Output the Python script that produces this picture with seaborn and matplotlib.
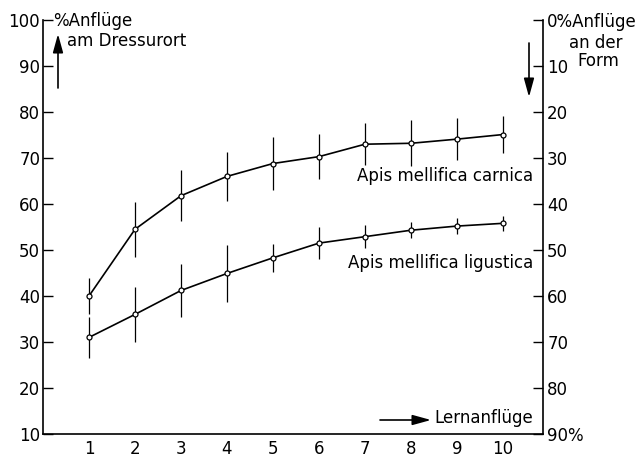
import matplotlib
matplotlib.use("Agg")
import matplotlib.pyplot as plt
import seaborn as sns
import pandas as pd
import numpy as np

# ---- data ----
lernanfluege = [1, 2, 3, 4, 5, 6, 7, 8, 9, 10]
carnica_mean = [40.0, 54.5, 61.8, 66.0, 68.8, 70.3, 73.0, 73.2, 74.1, 75.1]
carnica_err = [4.0, 6.0, 5.5, 5.4, 5.8, 4.9, 4.5, 5.0, 4.6, 4.1]
ligustica_mean = [31.0, 36.0, 41.2, 44.9, 48.3, 51.5, 52.9, 54.3, 55.2, 55.8]
ligustica_err = [4.5, 6.0, 5.8, 6.1, 3.1, 3.5, 2.5, 1.8, 1.8, 1.6]
left_ticks = [10, 20, 30, 40, 50, 60, 70, 80, 90, 100]
right_ticks = [0, 10, 20, 30, 40, 50, 60, 70, 80, 90]
right_labels = ["0%Anflüge", "10", "20", "30", "40", "50", "60", "70", "80", "90%"]

df = pd.DataFrame({
    "Lernanflüge": lernanfluege * 2,
    "Anflüge": carnica_mean + ligustica_mean,
    "Rasse": ["carnica"] * 10 + ["ligustica"] * 10,
})

sns.set_style("white")
plt.rcParams["font.family"] = ["DejaVu Sans"]
plt.rcParams["text.color"] = "black"
plt.rcParams["axes.labelcolor"] = "black"

W, H = 644, 459
fig = plt.figure(figsize=(W / 100, H / 100), dpi=100)
ax = fig.add_axes([43 / W, 1 - 434 / H, 500 / W, 414 / H])

# error bars
for m, e in [(carnica_mean, carnica_err), (ligustica_mean, ligustica_err)]:
    m = np.array(m); e = np.array(e)
    ax.vlines(lernanfluege, m - e, m + e, color="black", lw=0.9, zorder=2)

sns.lineplot(data=df, x="Lernanflüge", y="Anflüge", hue="Rasse",
             palette=["black", "black"], marker="o", markersize=3.6,
             markerfacecolor="white", markeredgecolor="black",
             markeredgewidth=0.9, linewidth=1.2, legend=False, ax=ax,
             zorder=3)

ax.set_xlim(0, 10.87)
ax.set_ylim(10, 100)
ax.set_xticks(lernanfluege)
ax.set_yticks(left_ticks)
ax.set_xlabel("")
ax.set_ylabel("")
ax.tick_params(axis="both", direction="in", length=7, width=1.0,
               labelsize=12, colors="black")
ax.tick_params(axis="y", pad=2)
ax.tick_params(axis="x", length=6, pad=4)
for s in ["top", "right"]:
    ax.spines[s].set_visible(False)
for s in ["left", "bottom"]:
    ax.spines[s].set_color("black")
    ax.spines[s].set_linewidth(1.2)

ax2 = ax.twinx()
ax2.set_ylim(90, 0)
ax2.set_yticks(right_ticks)
ax2.set_yticklabels(right_labels)
ax2.tick_params(axis="y", direction="in", length=7, width=1.0,
                labelsize=12, colors="black", pad=3)
for s in ["top", "left", "bottom"]:
    ax2.spines[s].set_visible(False)
ax2.spines["right"].set_color("black")
ax2.spines["right"].set_linewidth(1.2)

def fx(x):
    return x / W

def fy(y):
    return 1 - y / H

fs = 12
fig.text(fx(53), fy(21), "%Anflüge", fontsize=fs, va="center", ha="left")
fig.text(fx(67), fy(41), "am Dressurort", fontsize=fs, va="center", ha="left")
fig.text(fx(569), fy(43), "an der", fontsize=fs, va="center", ha="left")
fig.text(fx(577), fy(61), "Form", fontsize=fs, va="center", ha="left")
fig.text(fx(434), fy(418), "Lernanflüge", fontsize=fs, va="center", ha="left")
fig.text(fx(533), fy(176), "Apis mellifica carnica", fontsize=fs,
         va="center", ha="right")
fig.text(fx(533), fy(263), "Apis mellifica ligustica", fontsize=fs,
         va="center", ha="right")

arrow = dict(arrowstyle="-|>,head_length=0.8,head_width=0.22",
             color="black", lw=1.2, shrinkA=0, shrinkB=0, mutation_scale=14)
fig.add_artist(matplotlib.patches.FancyArrowPatch(
    (fx(58), fy(88)), (fx(58), fy(34)), transform=fig.transFigure, **arrow))
fig.add_artist(matplotlib.patches.FancyArrowPatch(
    (fx(529), fy(43)), (fx(529), fy(97)), transform=fig.transFigure, **arrow))
fig.add_artist(matplotlib.patches.FancyArrowPatch(
    (fx(380), fy(420)), (fx(431), fy(420)), transform=fig.transFigure, **arrow))

fig.savefig("out.png", dpi=100, facecolor="white")
